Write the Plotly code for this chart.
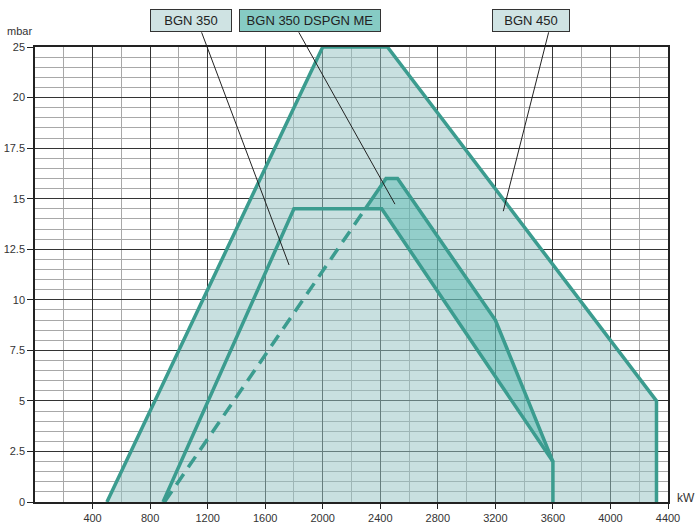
import plotly.graph_objects as go

# ---- data (kW, mbar) ----
kw_450 = [500, 2000, 2450, 4320, 4320]
mbar_450 = [0, 25, 25, 5, 0]

kw_350 = [890, 1800, 2410, 3600, 3600]
mbar_350 = [0, 14.5, 14.5, 2, 0]

kw_dsp = [900, 2296, 2440, 2520, 3200, 3600, 3600]
mbar_dsp = [0, 14.5, 16, 16, 9, 2, 0]

x_ticks = [400, 800, 1200, 1600, 2000, 2400, 2800, 3200, 3600, 4000, 4400]
y_ticks = [0, 2.5, 5, 7.5, 10, 12.5, 15, 17.5, 20, 25]
y_tick_labels = ["0", "2.5", "5", "7.5", "10", "12.5", "15", "17.5", "20", "25"]

labels = ["BGN 350", "BGN 350 DSPGN ME", "BGN 450"]


# the chart's pressure scale is compressed above 20 mbar (20..25 spans one band)
def to_axis(v):
    return v if v <= 20 else 20 + (v - 20) / 2.0


def axis_list(vals):
    return [to_axis(v) for v in vals]


FONT = "Liberation Sans, Arial, sans-serif"
LINE = "#3b9c8f"
LIGHT_FILL = "rgba(150,196,196,0.52)"
DARK_FILL = "rgba(60,175,165,0.38)"

fig = go.Figure()

# BGN 450 area
fig.add_trace(go.Scatter(x=kw_450, y=axis_list(mbar_450), fill="toself",
                         fillcolor=LIGHT_FILL, mode="lines",
                         line=dict(width=0), hoverinfo="skip", showlegend=False))

# DSPGN extra region (outside BGN 350)
dark_x = kw_dsp[1:6] + [kw_350[2]]
dark_y = mbar_dsp[1:6] + [mbar_350[2]]
fig.add_trace(go.Scatter(x=dark_x, y=axis_list(dark_y), fill="toself",
                         fillcolor=DARK_FILL, mode="lines",
                         line=dict(width=0), hoverinfo="skip", showlegend=False))

# outlines
fig.add_trace(go.Scatter(x=kw_450, y=axis_list(mbar_450), mode="lines",
                         line=dict(color=LINE, width=3.5), name=labels[2], showlegend=False))
fig.add_trace(go.Scatter(x=kw_350, y=axis_list(mbar_350), mode="lines",
                         line=dict(color=LINE, width=3.5), name=labels[0], showlegend=False))
fig.add_trace(go.Scatter(x=kw_dsp[0:2], y=axis_list(mbar_dsp[0:2]), mode="lines",
                         line=dict(color=LINE, width=3.5, dash="13px,8px"),
                         name=labels[1], showlegend=False))
fig.add_trace(go.Scatter(x=kw_dsp[1:6], y=axis_list(mbar_dsp[1:6]), mode="lines",
                         line=dict(color=LINE, width=3.5), name=labels[1], showlegend=False))

annotations = []
# leader lines: (head kW, head axis-y, tail kW, tail axis-y)
leaders = [
    (1766, 11.72, 1154, 23.3),
    (2502, 14.73, 1828, 23.3),
    (3255, 14.38, 3573, 23.3),
]
for hx, hy, tx, ty in leaders:
    annotations.append(dict(x=hx, y=hy, xref="x", yref="y", ax=tx, ay=ty,
                            axref="x", ayref="y", text="", showarrow=True,
                            arrowhead=0, arrowwidth=1, arrowcolor="#222"))
# label boxes (paper coordinates)
box_specs = [
    (labels[0], 0.2464, 76, "#cfe3e3"),
    (labels[1], 0.4344, 136, "#86cbc4"),
    (labels[2], 0.7836, 72, "#cfe3e3"),
]
for text, bx, bw, col in box_specs:
    annotations.append(dict(x=bx, y=1.0586, xref="paper", yref="paper", text=text,
                            showarrow=False, bgcolor=col, bordercolor="#333",
                            borderwidth=1, borderpad=2, width=bw, height=17,
                            xanchor="center", yanchor="middle",
                            font=dict(family=FONT, size=13, color="#222")))
annotations.append(dict(x=-0.0237, y=1.0345, xref="paper", yref="paper", text="mbar",
                        showarrow=False, xanchor="center", yanchor="middle",
                        font=dict(family=FONT, size=11, color="#333")))
annotations.append(dict(x=1.011, y=0.008, xref="paper", yref="paper", text="kW",
                        showarrow=False, xanchor="left", yanchor="middle",
                        font=dict(family=FONT, size=12, color="#333")))

minor_y = [i * 0.5 for i in range(1, 45) if (i * 0.5) % 2.5 != 0]

fig.update_layout(
    width=700, height=530, autosize=False,
    margin=dict(l=35, r=32, t=47, b=28, autoexpand=False),
    plot_bgcolor="white", paper_bgcolor="white",
    annotations=annotations,
    font=dict(family=FONT, size=12, color="#333"),
    xaxis=dict(range=[0, 4400], tickvals=x_ticks, ticks="outside", ticklen=5,
               tickcolor="#222", showline=True, linecolor="#222", linewidth=1.5,
               mirror=True, showgrid=True, gridcolor="#333", gridwidth=1.2,
               zeroline=False, automargin=False,
               minor=dict(dtick=200, tick0=0, showgrid=True, gridcolor="#a8a8a8",
                          gridwidth=1, ticks=""),
               tickfont=dict(family=FONT, size=11, color="#333")),
    yaxis=dict(range=[0, 22.5], tickvals=axis_list(y_ticks), ticktext=y_tick_labels,
               ticks="outside", ticklen=6, tickcolor="#222",
               showline=True, linecolor="#222", linewidth=1.5, mirror=True,
               showgrid=True, gridcolor="#333", gridwidth=1.2, zeroline=False,
               automargin=False,
               minor=dict(tickvals=minor_y, showgrid=True, gridcolor="#a8a8a8",
                          gridwidth=1, ticks=""),
               tickfont=dict(family=FONT, size=11, color="#333")),
)

# remove the page's default body margin so the 700x530 figure fills the window
fig.write_html("out.html", config={"displayModeBar": False},
               post_script="document.body.style.margin='0';")
